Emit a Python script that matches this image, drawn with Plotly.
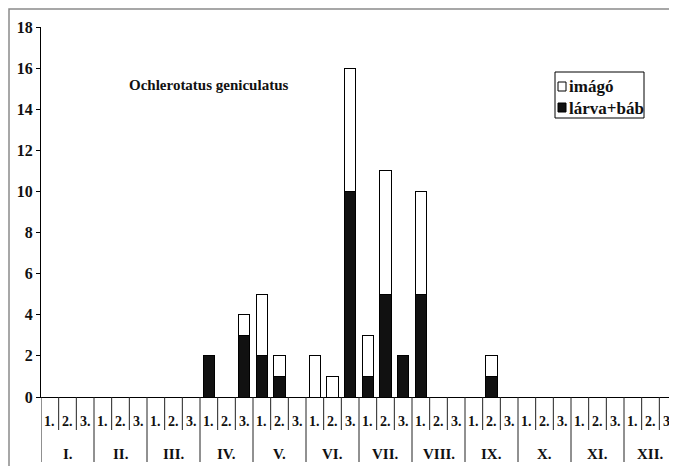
import plotly.graph_objects as go

months = ["I.", "II.", "III.", "IV.", "V.", "VI.", "VII.", "VIII.", "IX.", "X.", "XI.", "XII."]
decades = ["1.", "2.", "3."]
larva = [0, 0, 0, 0, 0, 0, 0, 0, 0, 2, 0, 3, 2, 1, 0, 0, 0, 10,
         1, 5, 2, 5, 0, 0, 0, 1, 0, 0, 0, 0, 0, 0, 0, 0, 0, 0]
imago = [0, 0, 0, 0, 0, 0, 0, 0, 0, 0, 0, 1, 3, 1, 0, 2, 1, 6,
         2, 6, 0, 5, 0, 0, 0, 1, 0, 0, 0, 0, 0, 0, 0, 0, 0, 0]
y_ticks = [0, 2, 4, 6, 8, 10, 12, 14, 16, 18]
legend_names = ["imágó", "lárva+báb"]
title_text = "Ochlerotatus geniculatus"

cats = [f"{m} {d}" for m in months for d in decades]
dec_of_cat = [d for _ in months for d in decades]

FONT = "Liberation Serif"
INK = "#111111"

fig = go.Figure()
fig.add_trace(go.Bar(x=cats, y=larva, name=legend_names[1], showlegend=False,
                     marker=dict(color=INK, line=dict(color="#000000", width=1))))
fig.add_trace(go.Bar(x=cats, y=imago, name=legend_names[0], showlegend=False,
                     marker=dict(color="#ffffff", line=dict(color="#000000", width=1))))

# page body has an 8px margin -> figure drawn from (8, 8) of the window
OFF = 8
W, H = 677 - OFF, 466 - OFF
PL, PT, PB = 41, 27, 397        # plot area in window pixels
L, T, B = PL - OFF, PT - OFF, 466 - PB
pw = 677 - PL
ph = PB - PT

def px(x):
    return (x - PL) / pw

def py(y):
    return (PB - y) / ph

fig.update_layout(
    width=W, height=H,
    margin=dict(l=L, r=0, t=T, b=B, autoexpand=False),
    barmode="stack", bargap=0.37,
    paper_bgcolor="white", plot_bgcolor="white",
    font=dict(family=FONT, color=INK),
    showlegend=False,
    xaxis=dict(type="category", range=[-0.5, len(cats) - 0.5], showline=True,
               linecolor="#000000", linewidth=1, automargin=False,
               showticklabels=False, ticks="", showgrid=False, zeroline=False),
    yaxis=dict(range=[0, 18], tickvals=y_ticks, showline=True, linecolor="#000000", linewidth=1,
               automargin=False,
               ticks="outside", ticklen=4, tickcolor="#000000", showgrid=False, zeroline=False,
               tickfont=dict(family=FONT, size=16, weight="bold", color=INK)),
)

# category table below the axis
for i in range(len(cats) + 1):
    long = (i % 3 == 0)
    fig.add_shape(type="line", xref="x", yref="paper", x0=i - 0.5, x1=i - 0.5,
                  y0=0, y1=py(462 if long else 430),
                  line=dict(color="#222222", width=1))
for i, c in enumerate(cats):
    fig.add_annotation(text=dec_of_cat[i], xref="x", yref="paper", x=c, y=py(421),
                       xanchor="center", yanchor="middle", showarrow=False,
                       font=dict(family=FONT, size=14, weight="bold", color=INK))
for k, m in enumerate(months):
    fig.add_annotation(text=m, xref="x", yref="paper", x=cats[3 * k + 1], y=py(454),
                       xanchor="center", yanchor="middle", showarrow=False,
                       font=dict(family=FONT, size=15, weight="bold", color=INK))

fig.add_annotation(text=title_text, xref="paper", yref="paper",
                   x=px(208), y=py(85), xanchor="center", yanchor="middle", showarrow=False,
                   font=dict(family=FONT, size=15, weight="bold", color=INK))

# custom legend
fig.add_shape(type="rect", xref="paper", yref="paper", x0=px(555), x1=px(644), y0=py(118), y1=py(72),
              line=dict(color="#000000", width=1), fillcolor="white")
fig.add_shape(type="rect", xref="paper", yref="paper", x0=px(558), x1=px(566), y0=py(91), y1=py(82),
              line=dict(color="#000000", width=1), fillcolor="white")
fig.add_shape(type="rect", xref="paper", yref="paper", x0=px(558), x1=px(566), y0=py(112), y1=py(103),
              line=dict(color="#000000", width=1), fillcolor=INK)
fig.add_annotation(text=legend_names[0], xref="paper", yref="paper", x=px(567), y=py(86),
                   xanchor="left", yanchor="middle", showarrow=False,
                   font=dict(family=FONT, size=17, weight="bold", color=INK))
fig.add_annotation(text=legend_names[1], xref="paper", yref="paper", x=px(567), y=py(108),
                   xanchor="left", yanchor="middle", showarrow=False,
                   font=dict(family=FONT, size=17, weight="bold", color=INK))

# outer chart border
fig.add_shape(type="rect", xref="paper", yref="paper",
              x0=px(9), x1=px(720), y0=py(520), y1=py(9),
              line=dict(color="#8a8a8a", width=1.5), fillcolor="rgba(0,0,0,0)", layer="below")

fig.write_html("out.html")
